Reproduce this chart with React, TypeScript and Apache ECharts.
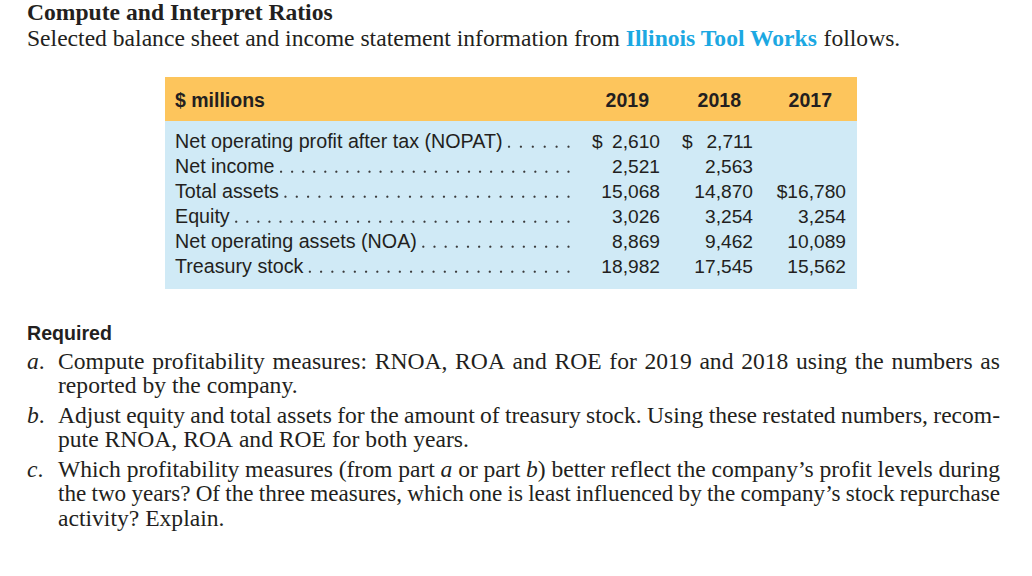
import { useEffect, useRef } from "react";
import * as echarts from "echarts";

// ---------- content ----------
const titleText = "Compute and Interpret Ratios";
const introBefore = "Selected balance sheet and income statement information from ";
const introCompany = "Illinois Tool Works";
const introAfter = " follows.";

const unitLabel = "$ millions";
const years = ["2019", "2018", "2017"];
const rowLabels = [
  "Net operating profit after tax (NOPAT)",
  "Net income",
  "Total assets",
  "Equity",
  "Net operating assets (NOA)",
  "Treasury stock",
];
const values2019: (number | null)[] = [2610, 2521, 15068, 3026, 8869, 18982];
const values2018: (number | null)[] = [2711, 2563, 14870, 3254, 9462, 17545];
const values2017: (number | null)[] = [null, null, 16780, 3254, 10089, 15562];
// row index where each year column shows its "$" sign
const dollarRow2019 = 0;
const dollarRow2018 = 0;
const dollarRow2017 = 2;

const requiredTitle = "Required";
const partLabels = ["*a*.", "*b*.", "*c*."];
const partA = [
  "Compute profitability measures: RNOA, ROA and ROE for 2019 and 2018 using the numbers as",
  "reported by the company.",
];
const partB = [
  "Adjust equity and total assets for the amount of treasury stock. Using these restated numbers, recom-",
  "pute RNOA, ROA and ROE for both years.",
];
const partC = [
  "Which profitability measures (from part *a* or part *b*) better reflect the company\u2019s profit levels during",
  "the two years? Of the three measures, which one is least influenced by the company\u2019s stock repurchase",
  "activity? Explain.",
];

// ---------- styling / layout ----------
const SERIF = '"Liberation Serif", "Times New Roman", serif';
const SANS = '"Liberation Sans", Arial, sans-serif';
const INK = "#231f20";
const BLUE_TXT = "#1ca8e2";
const ORANGE = "#fdc55c";
const LIGHT_BLUE = "#d0eaf6";

const fontOf = (size: number, fam: string, weight = "normal", style = "normal") =>
  `${style} ${weight} ${size}px ${fam}`;

let ctx: CanvasRenderingContext2D | null = null;
function measure(text: string, font: string): number {
  if (!ctx) ctx = document.createElement("canvas").getContext("2d");
  ctx!.font = font;
  return ctx!.measureText(text).width;
}

// central-baseline offset (em) for middle vertical alignment
const SERIF_MID = 0.3375;
const SANS_MID = 0.3465;

function textEl(text: string, x: number, baseline: number, font: string, size: number, mid: number, fill = INK, align = "left") {
  return {
    type: "text",
    x,
    y: baseline - mid * size,
    silent: true,
    style: {
      text,
      font,
      fill,
      align,
      verticalAlign: "middle",
      textAlign: align,
      textVerticalAlign: "middle",
    },
  };
}

function lineMetrics(line: string, size: number) {
  const regular = fontOf(size, SERIF);
  const italic = fontOf(size, SERIF, "normal", "italic");
  const words = line.split(" ");
  const segs = words.map((w) =>
    w.split("*").map((t, i) => ({ t, it: i % 2 === 1 })).filter((s) => s.t.length > 0)
  );
  const widths = segs.map((ws) => ws.reduce((a, s) => a + measure(s.t, s.it ? italic : regular), 0));
  const total = widths.reduce((a, b) => a + b, 0);
  const space = measure(" ", regular);
  return { regular, italic, words, segs, widths, total, space };
}

function buildLine(line: string, x0: number, x1: number, baseline: number, justify: boolean, baseSize: number) {
  const out: any[] = [];
  let size = baseSize;
  let m = lineMetrics(line, size);
  if (justify && m.words.length > 1) {
    const natural = m.total + 0.9 * m.space * (m.words.length - 1);
    if (natural > x1 - x0) {
      size = (baseSize * (x1 - x0)) / natural;
      m = lineMetrics(line, size);
    }
  }
  const gap = justify && m.words.length > 1 ? (x1 - x0 - m.total) / (m.words.length - 1) : m.space;
  let x = x0;
  m.segs.forEach((ws, wi) => {
    let sx = x;
    ws.forEach((s) => {
      const f = s.it ? m.italic : m.regular;
      out.push(textEl(s.t, sx, baseline, f, size, SERIF_MID));
      sx += measure(s.t, f);
    });
    x += m.widths[wi] + gap;
  });
  return out;
}

function buildElements() {
  const els: any[] = [];
  const BODY = 23.6;
  const TITLE = 23.6;

  // title + intro
  els.push(textEl(titleText, 27, 19.8, fontOf(TITLE, SERIF, "bold"), TITLE, SERIF_MID));
  {
    const reg = fontOf(BODY, SERIF);
    const bold = fontOf(BODY, SERIF, "bold");
    let x = 27;
    const b = 45.5;
    els.push(textEl(introBefore, x, b, reg, BODY, SERIF_MID));
    x += measure(introBefore, reg);
    els.push(textEl(introCompany, x, b, bold, BODY, SERIF_MID, BLUE_TXT));
    x += measure(introCompany, bold);
    els.push(textEl(introAfter, x, b, reg, BODY, SERIF_MID));
  }

  // table backgrounds
  const tL = 165, tR = 857, hTop = 77, hBot = 121, bBot = 289;
  els.push({ type: "rect", silent: true, shape: { x: tL, y: hTop, width: tR - tL, height: hBot - hTop }, style: { fill: ORANGE } });
  els.push({ type: "rect", silent: true, shape: { x: tL, y: hBot, width: tR - tL, height: bBot - hBot }, style: { fill: LIGHT_BLUE } });

  const LS = 19.7; // row labels
  const NS = 19.2; // numbers
  const HS = 19.5; // header bold
  const sansL = fontOf(LS, SANS);
  const sansN = fontOf(NS, SANS);
  const sansB = fontOf(HS, SANS, "bold");
  els.push(textEl(unitLabel, 175, 107, sansB, HS, SANS_MID));
  const headRight = [649, 741, 832];
  years.forEach((y, i) => els.push(textEl(y, headRight[i], 107, sansB, HS, SANS_MID, INK, "right")));

  const valRight = [660, 753, 846];
  const dollarX = [592, 682];
  const cols = [values2019, values2018, values2017];
  const dollarRows = [dollarRow2019, dollarRow2018, dollarRow2017];
  const fmt = (v: number) => v.toLocaleString("en-US");

  rowLabels.forEach((label, r) => {
    const base = 148 + 25 * r;
    els.push(textEl(label, 175, base, sansL, LS, SANS_MID));
    const end = 175 + measure(label, sansL);
    const first = end + 6.5;
    const last = 568.5;
    const n = Math.max(1, Math.round((last - first) / 11.2));
    const step = (last - first) / n;
    for (let k = 0; k <= n; k++) {
      els.push({ type: "circle", silent: true, shape: { cx: first + k * step, cy: base - 1.3, r: 1.15 }, style: { fill: "#3a3a3a" } });
    }
    cols.forEach((col, c) => {
      const v = col[r];
      if (v == null) return;
      if (dollarRows[c] === r) {
        if (c < 2) {
          els.push(textEl("$", dollarX[c], base, sansN, NS, SANS_MID));
          els.push(textEl(fmt(v), valRight[c], base, sansN, NS, SANS_MID, INK, "right"));
        } else {
          els.push(textEl("$" + fmt(v), valRight[c], base, sansN, NS, SANS_MID, INK, "right"));
        }
      } else {
        els.push(textEl(fmt(v), valRight[c], base, sansN, NS, SANS_MID, INK, "right"));
      }
    });
  });

  // Required section
  els.push(textEl(requiredTitle, 27, 340, fontOf(19.6, SANS, "bold"), 19.6, SANS_MID));
  const parts = [partA, partB, partC];
  const baselines = [
    [368.5, 393],
    [422.5, 447],
    [476.5, 500.5, 525.5],
  ];
  parts.forEach((lines, p) => {
    els.push(...buildLine(partLabels[p], 27, 27, baselines[p][0], false, BODY));
    lines.forEach((ln, li) => {
      const justify = li < lines.length - 1;
      els.push(...buildLine(ln, 58, 1000, baselines[p][li], justify, BODY));
    });
  });

  return els;
}

export default function App() {
  const ref = useRef<HTMLDivElement>(null);
  useEffect(() => {
    if (!ref.current) return;
    const chart = echarts.init(ref.current, null, { renderer: "svg", width: 1032, height: 576 });
    chart.setOption({
      animation: false,
      backgroundColor: "#ffffff",
      graphic: { elements: buildElements() },
    });
    return () => chart.dispose();
  }, []);
  return (
    <div
      ref={ref}
      style={{ position: "fixed", left: 0, top: 0, width: 1032, height: 576, background: "#fff" }}
    />
  );
}
